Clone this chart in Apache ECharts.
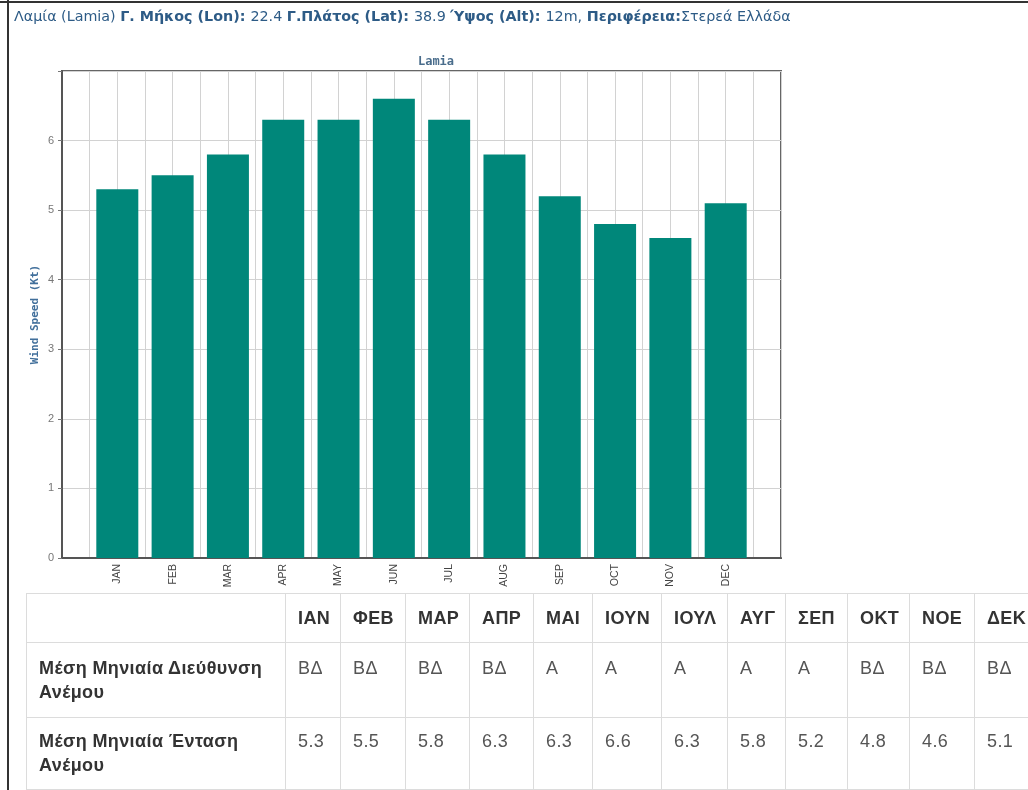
<!DOCTYPE html>
<html><head><meta charset="utf-8">
<script src="https://cdn.jsdelivr.net/npm/echarts@6/dist/echarts.min.js"></script>
<style>
html,body{margin:0;padding:0;width:1028px;height:790px;overflow:hidden;background:#fff;}
#chart{position:absolute;left:0;top:0;width:1028px;height:790px;}
#tbl{position:absolute;left:26px;top:593px;border-collapse:collapse;table-layout:fixed;font-family:"Liberation Sans",Arial,sans-serif;font-size:18px;letter-spacing:0.4px;color:#555;}
#tbl td,#tbl th{border:1px solid #dcdcdc;padding:0 0 0 12px;text-align:left;vertical-align:top;line-height:24px;overflow:hidden;white-space:nowrap;box-sizing:border-box;}
#tbl th{font-weight:bold;color:#333;height:49px;vertical-align:middle;}
#tbl td.lbl{font-weight:bold;color:#333;white-space:normal;}
#tbl tr.r2 td{height:75px;padding-top:13px;}
#tbl tr.r3 td{height:72px;padding-top:11px;}
</style></head>
<body>
<div id="chart"></div>
<table id="tbl"></table>
<script>
const months = ['JAN','FEB','MAR','APR','MAY','JUN','JUL','AUG','SEP','OCT','NOV','DEC'];
const greekMonths = ['ΙΑΝ','ΦΕΒ','ΜΑΡ','ΑΠΡ','ΜΑΙ','ΙΟΥΝ','ΙΟΥΛ','ΑΥΓ','ΣΕΠ','ΟΚΤ','ΝΟΕ','ΔΕΚ'];
const directions = ['ΒΔ','ΒΔ','ΒΔ','ΒΔ','Α','Α','Α','Α','Α','ΒΔ','ΒΔ','ΒΔ'];
const windSpeed = [5.3,5.5,5.8,6.3,6.3,6.6,6.3,5.8,5.2,4.8,4.6,5.1];
const rowLabels = ['Μέση Μηνιαία Διεύθυνση Ανέμου','Μέση Μηνιαία Ένταση Ανέμου'];
const colWidths = [259,55,65,64,64,59,69,66,58,62,62,65,80];

// table
const tbl = document.getElementById('tbl');
tbl.style.width = colWidths.reduce((a,b)=>a+b,0) + 'px';
let html = '<colgroup>' + colWidths.map(w=>'<col style="width:'+w+'px">').join('') + '</colgroup>';
html += '<tr><th></th>' + greekMonths.map(m=>'<th>'+m+'</th>').join('') + '</tr>';
html += '<tr class="r2"><td class="lbl">'+rowLabels[0]+'</td>' + directions.map(d=>'<td>'+d+'</td>').join('') + '</tr>';
html += '<tr class="r3"><td class="lbl">'+rowLabels[1]+'</td>' + windSpeed.map(v=>'<td>'+v.toFixed(1)+'</td>').join('') + '</tr>';
tbl.innerHTML = html;

const chart = echarts.init(document.getElementById('chart'), null, {renderer:'canvas'});
const hdr = '#2d5b86';
const hdrFont = '"DejaVu Sans",sans-serif';
const option = {
  animation:false,
  backgroundColor:'#fff',
  title:{
    text:'Lamia', left:431, top:51, textAlign:'center',
    textStyle:{fontFamily:'"DejaVu Sans Mono",monospace', fontSize:12, fontWeight:'bold', color:'#4a6d8c'}
  },
  graphic:[
    {type:'line', shape:{x1:0,y1:2,x2:1028,y2:2}, style:{stroke:'#333',lineWidth:2}},
    {type:'line', shape:{x1:8,y1:0,x2:8,y2:790}, style:{stroke:'#333',lineWidth:2}},
    {type:'text', left:14, top:10, style:{
      text:'{n|Λαμία (Lamia) }{b|Γ. Μήκος (Lon): }{n|22.4 }{b|Γ.Πλάτος (Lat): }{n|38.9 }{b|Ύψος (Alt): }{n|12m, }{b|Περιφέρεια:}{n|Στερεά Ελλάδα}',
      rich:{
        n:{fontFamily:hdrFont, fontSize:14.3, fill:hdr},
        b:{fontFamily:hdrFont, fontSize:14.3, fontWeight:'bold', fill:hdr}
      }
    }}
  ],
  grid:{left:62, top:71, width:719, height:487, show:true, borderColor:'#666', borderWidth:2, backgroundColor:'transparent'},
  xAxis:{
    type:'value', min:0, max:13, interval:0.5,
    axisLine:{show:true, lineStyle:{color:'#555', width:2}},
    axisTick:{show:false},
    splitLine:{show:true, lineStyle:{color:'#d2d2d2', width:1}},
    axisLabel:{
      rotate:90, margin:6, fontSize:10.5, color:'#444', fontFamily:'"Liberation Sans",Arial,sans-serif',
      formatter:function(v){ return (Number.isInteger(v) && v>=1 && v<=months.length) ? months[v-1] : ''; }
    }
  },
  yAxis:{
    type:'value', min:0, max:7, interval:1,
    name:'Wind Speed (Kt)', nameLocation:'middle', nameGap:21, nameRotate:90, nameMoveOverlap:false,
    nameTextStyle:{fontFamily:'"DejaVu Sans Mono",monospace', fontSize:11, fontWeight:'bold', color:'#416f9b'},
    axisLine:{show:true, lineStyle:{color:'#555', width:2}},
    axisTick:{show:true, length:4, lineStyle:{color:'#777'}},
    splitLine:{show:true, lineStyle:{color:'#d2d2d2', width:1}},
    axisLabel:{fontSize:11, color:'#777', margin:8, fontFamily:'"Liberation Sans",Arial,sans-serif',
      formatter:function(v){ return v===7 ? '' : String(v); }}
  },
  series:[{
    type:'bar', barWidth:42,
    data: windSpeed.map((v,i)=>[i+1, v]),
    itemStyle:{color:'#00877a'}
  }]
};
chart.setOption(option);
</script>
</body></html>
